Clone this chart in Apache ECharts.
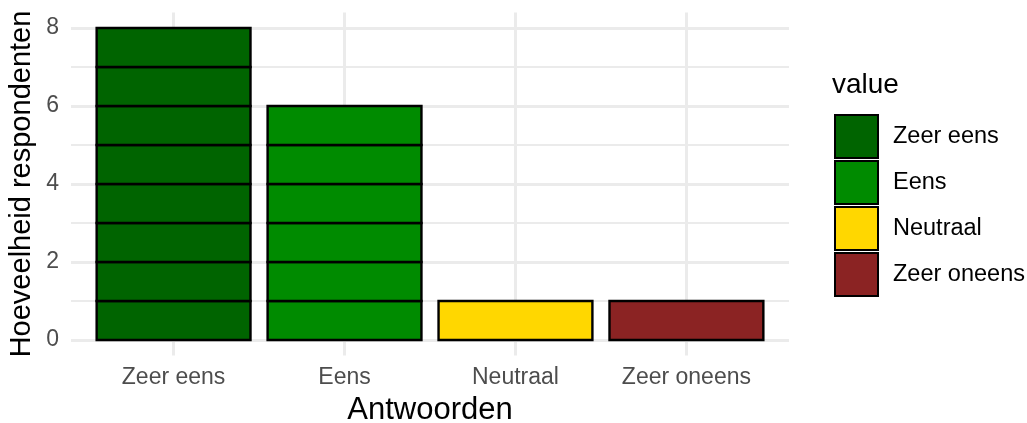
<!DOCTYPE html>
<html>
<head>
<meta charset="utf-8">
<script src="https://cdn.jsdelivr.net/npm/echarts@6/dist/echarts.min.js"></script>
<style>
  html, body { margin: 0; padding: 0; background: #ffffff; }
  #chart { width: 1027px; height: 423px; }
</style>
</head>
<body>
<div id="chart"></div>
<script>
// Survey answers and number of respondents per answer
const categories = ['Zeer eens', 'Eens', 'Neutraal', 'Zeer oneens'];
const counts = [8, 6, 1, 1];
const colors = ['#006400', '#008B00', '#FFD700', '#8B2323'];
const yMajorTicks = [0, 2, 4, 6, 8];
const yMinorTicks = [1, 3, 5, 7];
const xTicks = [0, 1, 2, 3];

const FONT = "'Liberation Sans', Arial, sans-serif";
const BAR_WIDTH = 0.9;

// One block per respondent, stacked inside each answer's bar
function blocksFor(i) {
  const out = [];
  for (let k = 0; k < counts[i]; k++) out.push([i, k]);
  return out;
}

function renderBlock(params, api) {
  const x = api.value(0);
  const k = api.value(1);
  const topLeft = api.coord([x - BAR_WIDTH / 2, k + 1]);
  const bottomRight = api.coord([x + BAR_WIDTH / 2, k]);
  return {
    type: 'rect',
    shape: {
      x: topLeft[0],
      y: topLeft[1],
      width: bottomRight[0] - topLeft[0],
      height: bottomRight[1] - topLeft[1]
    },
    style: { fill: api.visual('color'), stroke: '#000000', lineWidth: 2.4 }
  };
}

const series = categories.map((name, i) => ({
  name: name,
  type: 'custom',
  renderItem: renderBlock,
  encode: { x: 0, y: 1 },
  itemStyle: { color: colors[i] },
  data: blocksFor(i),
  z: 5
}));

const chart = echarts.init(document.getElementById('chart'), null, { renderer: 'canvas' });

chart.setOption({
  animation: false,
  backgroundColor: '#ffffff',
  textStyle: { fontFamily: FONT },
  grid: { left: 71, right: 238, top: 12.4, bottom: 67.4, containLabel: false },
  xAxis: {
    type: 'value',
    min: -0.6,
    max: 3.6,
    axisLine: { show: false },
    axisTick: { show: false, customValues: xTicks },
    axisLabel: {
      customValues: xTicks,
      formatter: v => categories[v],
      color: '#4D4D4D',
      fontSize: 23,
      fontFamily: FONT,
      margin: 11
    },
    splitLine: { show: true, lineStyle: { color: '#EBEBEB', width: 3 } }
  },
  yAxis: [
    {
      type: 'value',
      min: -0.4,
      max: 8.4,
      axisLine: { show: false },
      axisTick: { show: false, customValues: yMajorTicks },
      axisLabel: {
        customValues: yMajorTicks,
        color: '#4D4D4D',
        fontSize: 23,
        fontFamily: FONT,
        margin: 12
      },
      splitLine: { show: true, lineStyle: { color: '#EBEBEB', width: 3 } }
    },
    {
      type: 'value',
      min: -0.4,
      max: 8.4,
      position: 'left',
      axisLine: { show: false },
      axisTick: { show: false, customValues: yMinorTicks },
      axisLabel: { show: false },
      splitLine: { show: true, lineStyle: { color: '#EBEBEB', width: 1.8 } }
    }
  ],
  legend: {
    orient: 'vertical',
    left: 834,
    top: 114,
    padding: 0,
    itemWidth: 43,
    itemHeight: 43,
    itemGap: 1,
    icon: 'rect',
    selectedMode: false,
    itemStyle: { borderColor: '#000000', borderWidth: 2 },
    textStyle: { color: '#000000', fontSize: 23.5, fontFamily: FONT, lineHeight: 26, padding: [0, 0, 0, 10] },
    data: categories
  },
  graphic: [
    {
      type: 'text',
      x: 430, y: 410,
      style: { text: 'Antwoorden', font: '31px ' + FONT, fill: '#000000', align: 'center', verticalAlign: 'middle' }
    },
    {
      type: 'text',
      x: 22, y: 184,
      rotation: Math.PI / 2,
      style: { text: 'Hoeveelheid respondenten', font: '29px ' + FONT, fill: '#000000', align: 'center', verticalAlign: 'middle' }
    },
    {
      type: 'text',
      x: 832, y: 85,
      style: { text: 'value', font: '28px ' + FONT, fill: '#000000', align: 'left', verticalAlign: 'middle' }
    }
  ],
  series: series
});
</script>
</body>
</html>
